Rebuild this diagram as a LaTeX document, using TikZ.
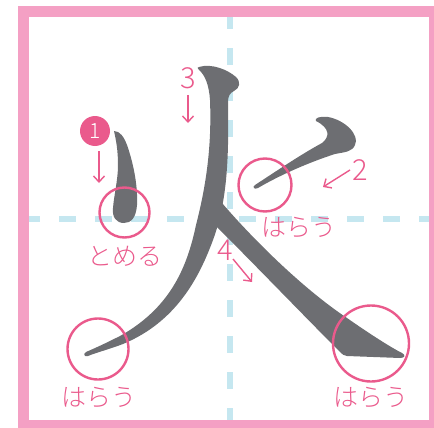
\documentclass[tikz,border=0pt]{standalone}
\usepackage{fontspec}
\newfontfamily\jpfont{Noto Sans CJK JP Light}
\usetikzlibrary{arrows.meta}
\definecolor{framepink}{RGB}{244,160,196}
\definecolor{markpink}{RGB}{234,90,140}
\definecolor{guideblue}{RGB}{197,231,240}
\definecolor{inkgray}{RGB}{109,110,114}

\begin{document}
\begin{tikzpicture}[x=1pt, y=-1pt,
  ink/.style={fill=inkgray, draw=none},
  ring/.style={circle, draw=markpink, line width=2.4pt, inner sep=0pt},
  kana/.style={font=\jpfont\fontsize{25}{25}\selectfont, text=markpink, inner sep=0pt},
  num/.style={font=\jpfont\fontsize{29}{29}\selectfont, text=markpink, inner sep=0pt},
  badge/.style={circle, fill=markpink, minimum size=30pt, inner sep=0pt, text=white, font=\jpfont\fontsize{21}{21}\selectfont},
  arr/.style={-{Straight Barb[length=6pt, width=11pt]}, markpink, line width=1.4pt},
  guide/.style={guideblue, line width=6pt, dash pattern=on 17pt off 19pt}]
  \useasboundingbox (0,0) rectangle (434,428);

  % Frame and guide lines
  \draw[framepink, line width=11pt] (23.5,11.5) rectangle (434.5,425.5);
  \draw[guide, dash phase=5pt] (230,17) -- (230,420);
  \draw[guide, dash phase=6pt] (29,219) -- (429,219);

  % Stroke 1
  \fill[ink] (114,131) .. controls (120,131) and (124,137) .. (127,145)
    .. controls (133,162) and (138,185) .. (137,205)
    .. controls (136,218) and (131,223) .. (124,223)
    .. controls (116,223) and (112,217) .. (113,208)
    .. controls (114,195) and (118,180) .. (118,165)
    .. controls (118,150) and (116,140) .. (114,131) -- cycle;

  % Stroke 2
  \fill[ink] (255,185) .. controls (275,172) and (300,155) .. (322,143)
    .. controls (330,137) and (330,128) .. (316,121)
    .. controls (314,118) and (320,116) .. (328,117)
    .. controls (345,120) and (360,135) .. (355,145)
    .. controls (352,152) and (345,152) .. (335,154)
    .. controls (310,162) and (280,175) .. (258,188)
    .. controls (254,190) and (252,187) .. (255,185) -- cycle;

  % Stroke 3
  \fill[ink] (199,67) .. controls (212,63) and (228,70) .. (236,77)
    .. controls (241,82) and (240,88) .. (234,91)
    .. controls (230,93) and (228,96) .. (228,102)
    .. controls (229,160) and (227,202) .. (213,240)
    .. controls (199,278) and (176,322) .. (123,344)
    .. controls (110,349) and (95,353) .. (88,356)
    .. controls (84,357) and (83,354) .. (86,352)
    .. controls (100,346) and (110,341) .. (120,336)
    .. controls (170,308) and (187,268) .. (196,225)
    .. controls (205,190) and (212,150) .. (210,100)
    .. controls (209,85) and (205,75) .. (199,70)
    .. controls (197,68) and (197,67) .. (199,67) -- cycle;

  % Stroke 4
  \fill[ink] (222,203) .. controls (252,238) and (302,288) .. (347,318)
    .. controls (367,332) and (390,347) .. (402,353)
    .. controls (406,355) and (405,358) .. (400,358)
    -- (347,356)
    .. controls (344,356) and (342,354) .. (340,352)
    .. controls (308,320) and (255,265) .. (214,224) -- cycle;

  % Rings
  \node[ring, minimum size=50pt] (c1) at (124.5,212.5) {};
  \node[ring, minimum size=53pt] (c2) at (265,185) {};
  \node[ring, minimum size=61pt] (c3) at (98,349) {};
  \node[ring, minimum size=76pt] (c4) at (371,343.5) {};

  % Labels
  \node[kana] (l1) at (125,256) {とめる};
  \node[kana] (l2) at (299,228) {はらう};
  \node[kana] (l3) at (99,398) {はらう};
  \node[kana] (l4) at (371,398) {はらう};

  % Stroke order
  \node[badge] (n1) at (95,131) {1};
  \node[num] (n2) at (360,170) {2};
  \node[num] (n3) at (188,78) {3};
  \node[num] (n4) at (225,250) {4};

  \coordinate (s1) at (99,151);  \coordinate (e1) at (99,183);
  \coordinate (s2) at (350,170); \coordinate (e2) at (323,187);
  \coordinate (s3) at (188,95);  \coordinate (e3) at (188,123);
  \coordinate (s4) at (233,259); \coordinate (e4) at (252,282);
  \draw[arr] (s1) -- (e1);
  \draw[arr] (s2) -- (e2);
  \draw[arr] (s3) -- (e3);
  \draw[arr] (s4) -- (e4);
\end{tikzpicture}
\end{document}
